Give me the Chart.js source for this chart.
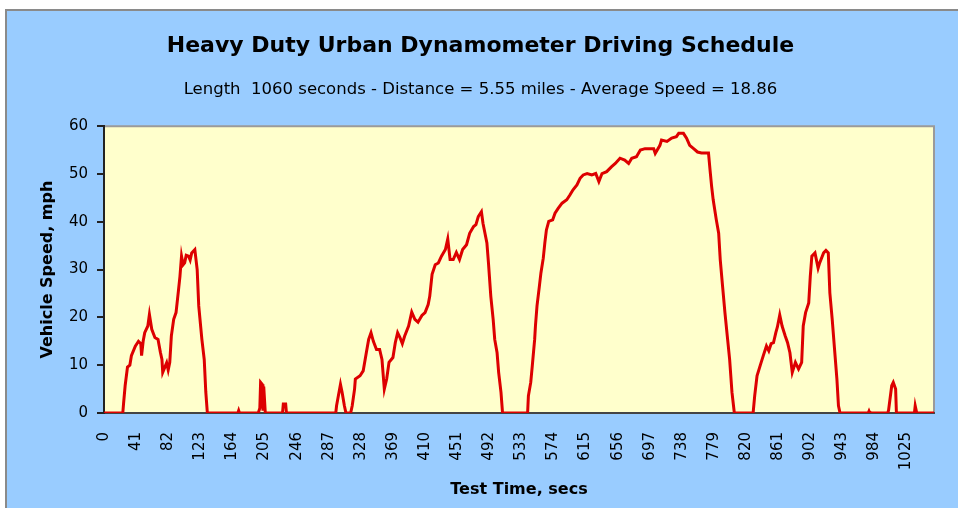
<!DOCTYPE html>
<html>
<head>
<meta charset="utf-8">
<title>Heavy Duty Urban Dynamometer Driving Schedule</title>
<script src="https://cdn.jsdelivr.net/npm/chart.js@4.4.1/dist/chart.umd.min.js"></script>
<style>
  html, body { margin: 0; padding: 0; background: #ffffff; }
  #frame {
    position: absolute;
    left: 5px;
    top: 9px;
    width: 951px;
    height: 497px;
    background: #99ccff;
    border-left: 2px solid #8a8a8a;
    border-top: 2px solid #8a8a8a;
  }
</style>
</head>
<body>
<div id="frame">
  <canvas id="myChart" width="951" height="497"></canvas>
</div>
<script>
// Speed trace (seconds, mph)
const times = [
  0, 24, 25, 27, 30, 33, 35, 40, 44, 47, 48, 50, 52, 56, 58, 61, 65, 69, 72, 74, 75, 78, 80, 82, 84, 86, 89, 92, 95, 97, 99, 101, 103, 105, 108, 110, 112, 116, 119, 121, 125, 128, 130, 132,
  171, 172, 173, 197, 199, 200, 202, 203, 204, 206, 228, 229, 232, 233,
  296, 297, 302, 304, 307, 309, 315, 317, 320, 321, 327, 331, 335, 338, 341, 344, 348, 352, 355, 358, 361, 364, 369, 372, 375, 378, 381, 384, 389, 393, 397, 401, 406, 410, 414, 416, 419, 423, 427, 431, 436, 439, 442, 446, 450, 454, 458, 463, 467, 472, 475, 478, 482, 484, 489, 491, 494, 497, 499, 502, 504, 507, 509,
  541, 542, 545, 547, 550, 551, 553, 556, 558, 561, 563, 565, 568, 573, 576, 580, 585, 591, 595, 599, 604, 608, 612, 617, 623, 628, 632, 636, 642, 648, 653, 659, 665, 670, 674, 680, 685, 691, 697, 702, 704, 710, 712, 719, 725, 731, 734, 740, 744, 748, 753, 758, 763, 772, 774, 776, 778, 782, 785, 787, 790, 793, 796, 799, 802, 805,
  829, 831, 834, 838, 842, 846, 849, 852, 855, 858, 860, 863, 866, 870, 873, 876, 879, 883, 887, 891, 893, 896, 900, 902, 904, 908, 912, 914, 919, 922, 925, 927, 930, 933, 936, 938, 940,
  976, 977, 978, 1001, 1002, 1006, 1008, 1011, 1012, 1035, 1036, 1038, 1060
];
const speeds = [
  0, 0, 2, 5.7, 9.6, 10, 12, 14, 15, 14.5, 12, 15, 16.8, 18.2, 20.6, 17.5, 15.8, 15.4, 12.7, 11.2, 8.5, 9.7, 10.5, 9, 10.6, 16.1, 19.6, 21, 25.5, 28.6, 32.8, 31, 31.4, 33, 32.8, 32, 33.5, 34.2, 30, 22.4, 15.4, 11.2, 4.4, 0,
  0, 0.5, 0, 0, 1, 6.4, 6, 0.5, 5.5, 0, 0, 1.9, 1.9, 0,
  0, 1.5, 6, 4.4, 1.5, 0, 0, 1.5, 5, 7.1, 7.8, 8.8, 12.6, 15.4, 16.8, 15, 13.3, 13.3, 11.2, 5, 7.1, 10.6, 11.6, 14.7, 16.8, 15.8, 14.5, 16.1, 18.2, 21.1, 19.6, 19, 20.4, 21, 22.7, 24.4, 29, 31, 31.4, 32.8, 34.2, 36.4, 32.1, 32.1, 33.6, 32.1, 34.2, 35.2, 37.6, 39, 39.4, 41.1, 42.1, 39.7, 35.6, 31.4, 24.4, 19.6, 15.4, 12.6, 8.5, 4.3, 0,
  0, 3.6, 6.4, 9.9, 15.4, 18.2, 22.4, 26.5, 29.3, 32.4, 35.6, 38.3, 40.1, 40.4, 41.8, 42.8, 43.9, 44.6, 45.6, 46.7, 47.7, 49.1, 49.8, 50.1, 49.8, 50.1, 48.4, 50.1, 50.5, 51.5, 52.2, 53.3, 52.9, 52.2, 53.3, 53.6, 55, 55.3, 55.3, 55.3, 54.3, 56, 57.1, 56.8, 57.5, 57.8, 58.5, 58.5, 57.5, 56, 55.3, 54.6, 54.4, 54.4, 50.8, 47.4, 44.6, 40.4, 37.6, 32.1, 26.5, 21, 16.1, 11.2, 4.3, 0,
  0, 3.6, 7.8, 9.9, 12, 14, 13, 14.5, 14.7, 16.8, 18, 20.5, 18.2, 16.1, 14.7, 12.6, 8.5, 10.6, 9.2, 10.6, 18.2, 21, 23, 28.6, 32.8, 33.5, 30.3, 31.4, 33.5, 34, 33.5, 25.1, 19.6, 13.3, 7.1, 1.5, 0,
  0, 0.4, 0, 0, 0.6, 5.7, 6.4, 5, 0, 0, 1.5, 0, 0
];

// Tick labels on the time axis
const timeTicks = [0, 41, 82, 123, 164, 205, 246, 287, 328, 369, 410, 451, 492, 533, 574, 615, 656, 697, 738, 779, 820, 861, 902, 943, 984, 1025];
const speedTicks = [0, 10, 20, 30, 40, 50, 60];

const chartTitle = "Heavy Duty Urban Dynamometer Driving Schedule";
const chartSubtitle = "Length  1060 seconds - Distance = 5.55 miles - Average Speed = 18.86";

const points = times.map((t, i) => ({ x: t, y: speeds[i] }));

// Yellow plot area with a thin grey frame on top and right
const plotBackground = {
  id: "plotBackground",
  beforeDraw: (chart) => {
    const { ctx, chartArea } = chart;
    ctx.save();
    ctx.fillStyle = "#ffffcc";
    ctx.fillRect(chartArea.left, chartArea.top, chartArea.right - chartArea.left, chartArea.bottom - chartArea.top);
    ctx.strokeStyle = "#9a9a9a";
    ctx.lineWidth = 2;
    ctx.beginPath();
    ctx.moveTo(chartArea.left, chartArea.top);
    ctx.lineTo(chartArea.right, chartArea.top);
    ctx.lineTo(chartArea.right, chartArea.bottom);
    ctx.stroke();
    ctx.restore();
  },
};

const chrt = document.getElementById("myChart");

new Chart(chrt, {
  type: "line",
  data: {
    datasets: [
      {
        data: points,
        borderColor: "#dd0000",
        borderWidth: 3,
        pointRadius: 0,
        tension: 0,
        fill: false,
      },
    ],
  },
  options: {
    responsive: false,
    animation: false,
    devicePixelRatio: 1,
    layout: {
      padding: { left: 20, right: 24, top: 0, bottom: 0 },
    },
    plugins: {
      legend: { display: false },
      tooltip: { enabled: false },
      title: {
        display: true,
        text: chartTitle,
        color: "#000",
        font: { family: "DejaVu Sans", size: 22, weight: "bold" },
        padding: { top: 22, bottom: 20 },
      },
      subtitle: {
        display: true,
        text: chartSubtitle,
        color: "#000",
        font: { family: "DejaVu Sans", size: 16.5, weight: "normal" },
        padding: { top: 0, bottom: 27 },
      },
    },
    scales: {
      x: {
        type: "linear",
        min: 0,
        max: 1060,
        afterBuildTicks: (axis) => {
          axis.ticks = timeTicks.map((v) => ({ value: v }));
        },
        afterFit: (axis) => {
          axis.height = 95;
        },
        grid: { display: false, drawTicks: false },
        border: { display: true, color: "#444", width: 2 },
        ticks: {
          autoSkip: false,
          minRotation: 90,
          maxRotation: 90,
          padding: 19,
          color: "#000",
          font: { family: "DejaVu Sans", size: 15 },
          callback: (value) => String(value),
        },
        title: {
          display: true,
          text: "Test Time, secs",
          color: "#000",
          font: { family: "DejaVu Sans", size: 16, weight: "bold" },
          padding: { top: 9, bottom: 9 },
        },
      },
      y: {
        min: 0,
        max: 60,
        afterBuildTicks: (axis) => {
          axis.ticks = speedTicks.map((v) => ({ value: v }));
        },
        afterFit: (axis) => {
          axis.width = 77;
        },
        grid: {
          display: true,
          drawOnChartArea: false,
          drawTicks: true,
          tickLength: 7,
          color: "#222",
          lineWidth: 2,
        },
        border: { display: true, color: "#222", width: 2 },
        ticks: {
          padding: 9,
          color: "#000",
          font: { family: "DejaVu Sans", size: 15 },
        },
        title: {
          display: true,
          text: "Vehicle Speed, mph",
          color: "#000",
          font: { family: "DejaVu Sans", size: 16, weight: "bold" },
          padding: { top: 11, bottom: 11 },
        },
      },
    },
  },
  plugins: [plotBackground],
});
</script>
</body>
</html>
